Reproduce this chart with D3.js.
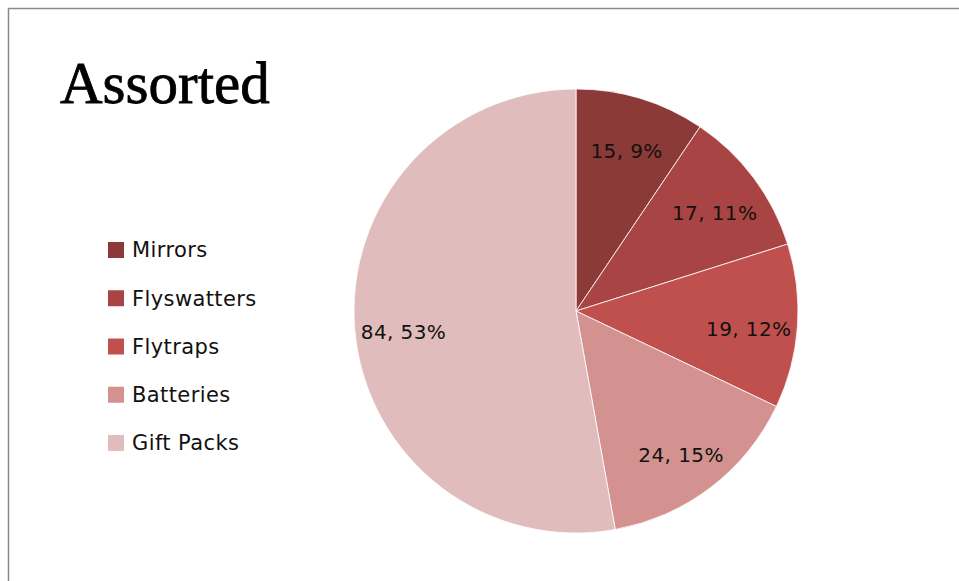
<!DOCTYPE html>
<html>
<head>
<meta charset="utf-8">
<script src="https://cdn.jsdelivr.net/npm/d3@7"></script>
<style>
  html, body { margin: 0; padding: 0; background: #fff; overflow: hidden; }
</style>
</head>
<body>
<div id="chart"></div>
<script>
// chart data
const categories = ["Mirrors", "Flyswatters", "Flytraps", "Batteries", "Gift Packs"]
const values = [15, 17, 19, 24, 84]
const colors = ["#8b3a38", "#a84544", "#c0504d", "#d39190", "#e1bcbc"]

const width = 959, height = 581
const cx = 576, cy = 311, radius = 222

const svg = d3.create("svg")
   .attr("width", width)
   .attr("height", height)
   .attr("viewBox", [0, 0, width, height])

// outer frame
svg.append("rect")
   .attr("x", 8.5)
   .attr("y", 8.5)
   .attr("width", 1000)
   .attr("height", 1000)
   .attr("fill", "none")
   .attr("stroke", "#8a8a8a")
   .attr("stroke-width", 1.5)

svg.append("text")
   .attr("x", 60)
   .attr("y", 103)
   .attr("font-family", "Liberation Serif, serif")
   .attr("font-size", 59)
   .attr("fill", "#000")
   .attr("stroke", "#000")
   .attr("stroke-width", 0.8)
   .text("Assorted")

const total = d3.sum(values)
const data = categories.map((c, i) => ({ name: c, value: values[i], color: colors[i] }))

const pie = d3.pie().value(d => d.value).sort(null)
const arc = d3.arc().innerRadius(0).outerRadius(radius)
const labelArc = d3.arc().innerRadius(radius * 0.78).outerRadius(radius * 0.78)

const g = svg.append("g").attr("transform", `translate(${cx},${cy})`)
const arcs = pie(data)

g.selectAll("path")
   .data(arcs)
   .join("path")
   .attr("d", arc)
   .attr("fill", d => d.data.color)
   .attr("stroke", "#fff")
   .attr("stroke-width", 0.8)

g.selectAll("text")
   .data(arcs)
   .join("text")
   .attr("transform", d => {
      const [x, y] = labelArc.centroid(d)
      return `translate(${x},${y + 6})`
   })
   .attr("text-anchor", "middle")
   .attr("dy", "0.35em")
   .attr("font-family", "DejaVu Sans, sans-serif")
   .attr("font-size", 20)
   .attr("letter-spacing", 0.4)
   .attr("fill", "#111")
   .text(d => `${d.data.value}, ${Math.round(d.data.value / total * 100)}%`)

// legend
const legendY = d3.scalePoint()
   .domain(categories)
   .range([250, 443])

const legend = svg.append("g")
   .selectAll("g")
   .data(data)
   .join("g")
   .attr("transform", d => `translate(108,${legendY(d.name)})`)

legend.append("rect")
   .attr("x", 0)
   .attr("y", -8)
   .attr("width", 16)
   .attr("height", 16)
   .attr("fill", d => d.color)

legend.append("text")
   .attr("x", 24)
   .attr("y", 0)
   .attr("dy", "0.35em")
   .attr("font-family", "DejaVu Sans, sans-serif")
   .attr("font-size", 21)
   .attr("letter-spacing", 0.4)
   .attr("fill", "#111")
   .text(d => d.name)

d3.select("#chart").node().append(svg.node())
</script>
</body>
</html>
